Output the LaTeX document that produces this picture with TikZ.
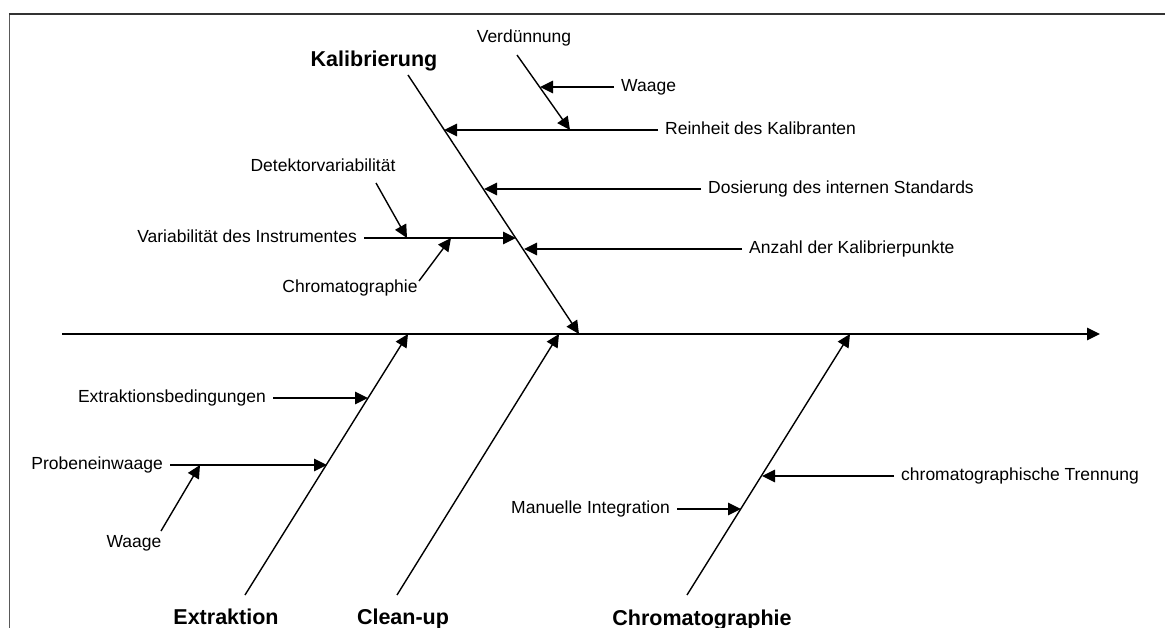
\documentclass[tikz,border=0pt]{standalone}
\usepackage{fontspec}
\setmainfont{Liberation Sans}
\usetikzlibrary{arrows.meta}
\tikzset{
  ln/.style={line width=1.4pt, black},
  arr/.style={ln, -{Triangle[length=13pt,width=12.5pt]}},
  lab/.style={font=\fontsize{17.5}{20}\selectfont, inner xsep=7pt, inner ysep=0pt, text height=12pt, text depth=3.5pt},
  head/.style={font=\fontsize{21.5}{24}\selectfont\bfseries, inner sep=0pt, anchor=base},
}
\begin{document}
\begin{tikzpicture}[x=1pt,y=-1pt]
\useasboundingbox (0,0) rectangle (1165,628);
% frame
\draw[line width=1.5pt, gray!70!black] (9.5,628) -- (9.5,14);
\draw[line width=1.5pt, black!80] (8.75,14) -- (1165,14);

% spine
\coordinate (s0) at (62,334);
\coordinate (s1) at (1100,334);
\draw[arr] (s0) -- (s1);

% Kalibrierung bone
\coordinate (ktop) at (408,75);
\coordinate (kend) at (579,334);
\node[head] (kal) at (374,67) {Kalibrierung};
\draw[arr] (ktop) -- (kend);

\coordinate (kr) at (444,130);
\coordinate (kd) at (484,189);
\coordinate (ka) at (524,249);
\coordinate (kv) at (516,238);

\node[lab, anchor=west] (rein) at (658,130) {Reinheit des Kalibranten};
\draw[arr] (rein.west) -- (kr);
\node[lab, anchor=west] (dos) at (701,189) {Dosierung des internen Standards};
\draw[arr] (dos.west) -- (kd);
\node[lab, anchor=west] (anz) at (742,249) {Anzahl der Kalibrierpunkte};
\draw[arr] (anz.west) -- (ka);
\node[lab, anchor=east] (var) at (364,238) {Variabilität des Instrumentes};
\draw[arr] (var.east) -- (kv);

% Verdünnung / Waage
\node[lab] (verd) at (524,38) {Verdünnung};
\coordinate (v0) at (517,55);
\coordinate (v1) at (570,130);
\draw[arr] (v0) -- (v1);
\coordinate (w1) at (540,87);
\node[lab, anchor=west] (waage1) at (614,87) {Waage};
\draw[arr] (waage1.west) -- (w1);

% Detektorvariabilität / Chromatographie
\node[lab] (det) at (323,167) {Detektorvariabilität};
\coordinate (d0) at (376,183);
\coordinate (d1) at (407,238);
\draw[arr] (d0) -- (d1);
\node[lab] (chr1) at (350,288) {Chromatographie};
\coordinate (c0) at (419,281);
\coordinate (c1) at (451,238);
\draw[arr] (c0) -- (c1);

% Extraktion bone
\coordinate (etop) at (408,334);
\coordinate (ebot) at (245,595);
\node[head] (extr) at (226,624) {Extraktion};
\draw[arr] (ebot) -- (etop);
\coordinate (eb) at (368,398);
\coordinate (ep) at (327,465);
\node[lab, anchor=east] (ebed) at (273,398) {Extraktionsbedingungen};
\draw[arr] (ebed.east) -- (eb);
\node[lab, anchor=east] (prob) at (170,465) {Probeneinwaage};
\draw[arr] (prob.east) -- (ep);
\node[lab] (waage2) at (134,543) {Waage};
\coordinate (w20) at (161,531);
\coordinate (w21) at (200,465);
\draw[arr] (w20) -- (w21);

% Clean-up bone
\coordinate (ctop) at (559,334);
\coordinate (cbot) at (397,595);
\node[head] (clean) at (403,624) {Clean-up};
\draw[arr] (cbot) -- (ctop);

% Chromatographie bone
\coordinate (gtop) at (850,334);
\coordinate (gbot) at (687,595);
\node[head] (chrom) at (702,625) {Chromatographie};
\draw[arr] (gbot) -- (gtop);
\coordinate (gt) at (762,476);
\coordinate (gm) at (741,509);
\node[lab, anchor=west] (trenn) at (894,476) {chromatographische Trennung};
\draw[arr] (trenn.west) -- (gt);
\node[lab, anchor=east] (man) at (677,509) {Manuelle Integration};
\draw[arr] (man.east) -- (gm);
\end{tikzpicture}
\end{document}
